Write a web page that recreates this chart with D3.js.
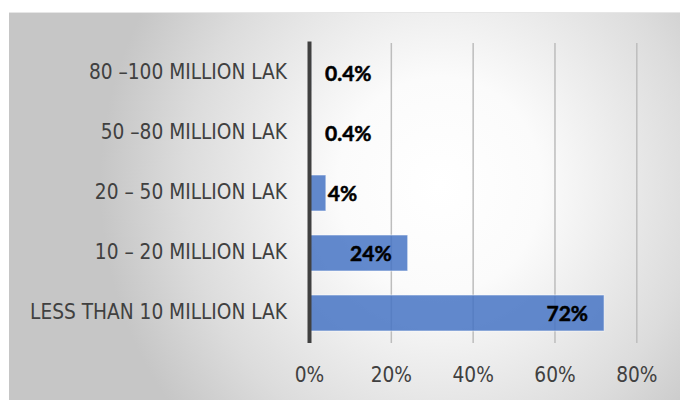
<!DOCTYPE html>
<html>
<head>
<meta charset="utf-8">
<script src="https://cdn.jsdelivr.net/npm/d3@7"></script>
<style>
  html, body { margin: 0; padding: 0; background: #ffffff; }
  svg { display: block; }
</style>
</head>
<body>
<svg id="chart" width="680" height="401"></svg>
<script>
// Income bands, top to bottom as listed on the axis
const categories = [
  "80 \u2013100 MILLION LAK",
  "50 \u201380 MILLION LAK",
  "20 \u2013 50 MILLION LAK",
  "10 \u2013 20 MILLION LAK",
  "LESS THAN 10 MILLION LAK"
];
// Share of households in each band (%)
const shares = [0.4, 0.4, 4, 24, 72];
const shareLabels = ["0.4%", "0.4%", "4%", "24%", "72%"];
// Horizontal axis ticks (%)
const tickValues = [0, 20, 40, 60, 80];

const svg = d3.select("#chart");
const W = 680, H = 401;

// Panel with a soft radial shading
const defs = svg.append("defs");
const grad = defs.append("radialGradient")
  .attr("id", "panelShade")
  .attr("gradientUnits", "userSpaceOnUse")
  .attr("cx", 0).attr("cy", 0).attr("r", 1)
  .attr("gradientTransform", "translate(440,185) scale(340,360)");
grad.append("stop").attr("offset", 0).attr("stop-color", "#ffffff");
grad.append("stop").attr("offset", 0.3).attr("stop-color", "#fbfbfb");
grad.append("stop").attr("offset", 0.75).attr("stop-color", "#dcdcdc");
grad.append("stop").attr("offset", 1).attr("stop-color", "#c6c6c6");

svg.append("rect")
  .attr("x", 9).attr("y", 12)
  .attr("width", W - 9).attr("height", 388)
  .attr("fill", "url(#panelShade)");
svg.append("line")
  .attr("x1", 9).attr("x2", W).attr("y1", 12.5).attr("y2", 12.5)
  .attr("stroke", "#e6e6e6").attr("stroke-width", 1);

// Scales
const plot = { left: 309.5, right: 636.8, top: 43, bottom: 343 };
const x = d3.scaleLinear().domain([0, 80]).range([plot.left, plot.right]);
const y = d3.scaleBand().domain(categories)
  .range([plot.top, plot.bottom])
  .paddingInner(0.4).paddingOuter(0.2);

// Vertical gridlines
svg.append("g").selectAll("line")
  .data(tickValues.filter(v => v > 0))
  .join("line")
  .attr("x1", d => x(d)).attr("x2", d => x(d))
  .attr("y1", plot.top).attr("y2", plot.bottom)
  .attr("stroke", "#bdbdbd").attr("stroke-width", 1.5);

// Bars
svg.append("g").selectAll("rect")
  .data(shares)
  .join("rect")
  .attr("x", x(0))
  .attr("y", (d, i) => y(categories[i]))
  .attr("width", d => x(d) - x(0))
  .attr("height", y.bandwidth())
  .attr("fill", "#4472c4")
  .attr("fill-opacity", 0.84)
  .attr("stroke", "#ffffff")
  .attr("stroke-opacity", 0.55)
  .attr("stroke-width", 1);

// Category axis line
svg.append("line")
  .attr("x1", x(0)).attr("x2", x(0))
  .attr("y1", plot.top - 1.5).attr("y2", plot.bottom)
  .attr("stroke", "#404040").attr("stroke-width", 4);

// Condensed label type: fixed size, squeezed horizontally so the
// longest band name spans ~257px
const labelFont = "'Liberation Sans Narrow', 'DejaVu Sans Condensed', 'DejaVu Sans', sans-serif";
const labelSize = 21;
const probe = svg.append("text")
  .attr("font-family", labelFont).attr("font-size", labelSize)
  .text(categories[4]);
const probeW = probe.node().getComputedTextLength();
probe.remove();
const squeeze = Math.min(1, 257 / probeW);

// Category labels
svg.append("g").selectAll("text")
  .data(categories)
  .join("text")
  .attr("transform", d =>
    `translate(287,${y(d) + y.bandwidth() / 2 + 5.8}) scale(${squeeze},1)`)
  .attr("text-anchor", "end")
  .attr("font-family", labelFont)
  .attr("font-size", labelSize)
  .attr("fill", "#404040")
  .text(d => d);

// Tick labels
svg.append("g").selectAll("text")
  .data(tickValues)
  .join("text")
  .attr("transform", d => `translate(${x(d)},381.5) scale(${squeeze},1)`)
  .attr("text-anchor", "middle")
  .attr("font-family", labelFont)
  .attr("font-size", labelSize)
  .attr("fill", "#404040")
  .text(d => d + "%");

// Value labels: inside the bar end for long bars, just past it for short ones
svg.append("g").selectAll("text")
  .data(shares)
  .join("text")
  .attr("x", d => d >= 10 ? x(d) - 16 : Math.max(x(d) + 2, x(0) + 15.5))
  .attr("y", (d, i) => y(categories[i]) + y.bandwidth() / 2 + 8)
  .attr("text-anchor", d => d >= 10 ? "end" : "start")
  .attr("font-family", "Lato, 'Open Sans', sans-serif")
  .attr("font-weight", 700)
  .attr("font-size", 21)
  .attr("fill", "#000000")
  .attr("stroke", "#000000")
  .attr("stroke-width", 0.5)
  .text((d, i) => shareLabels[i]);
</script>
</body>
</html>
